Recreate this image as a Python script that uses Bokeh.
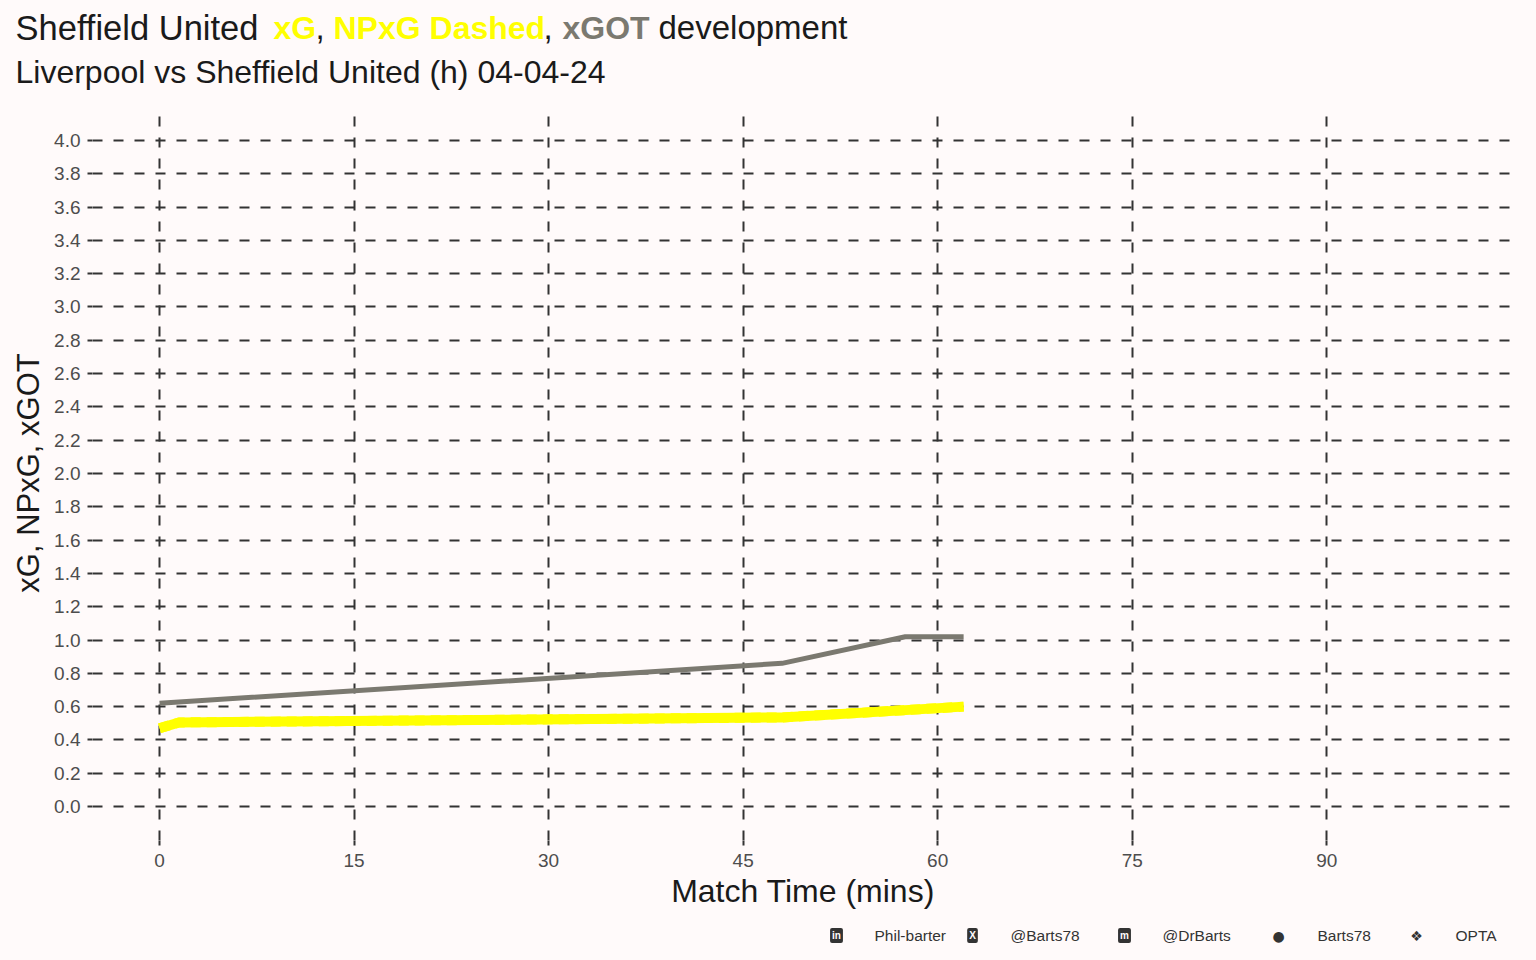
import math
from bokeh.plotting import figure
from bokeh.layouts import column, row
from bokeh.models import Label, FixedTicker, NumeralTickFormatter, Range1d
from bokeh.embed import file_html
from bokeh.resources import INLINE

# ---------------- data ----------------
xgot_minutes = [0, 48, 57.5, 62]
xgot_values = [0.62, 0.86, 1.02, 1.02]

xg_minutes = [0, 1.5, 48, 62]
xg_values = [0.47, 0.505, 0.535, 0.60]

npxg_minutes = [0, 1.5, 48, 62]
npxg_values = [0.47, 0.505, 0.535, 0.60]

x_ticks = [0, 15, 30, 45, 60, 75, 90]
y_ticks = [round(i * 0.2, 1) for i in range(21)]

title_parts = [
    ("Sheffield United", "normal", "#1a1a1a"),
    ("xG", "bold", "#ffff00"),
    (",", "normal", "#1a1a1a"),
    ("NPxG Dashed", "bold", "#ffff00"),
    (",", "normal", "#1a1a1a"),
    ("xGOT", "bold", "#7b7970"),
    ("development", "normal", "#1a1a1a"),
]
subtitle = "Liverpool vs Sheffield United (h) 04-04-24"
x_label = "Match Time (mins)"
y_label = "xG, NPxG, xGOT"
footer_items = [
    ("in", "Phil-barter"),
    ("X", "@Barts78"),
    ("m", "@DrBarts"),
    ("●", "Barts78"),
    ("❖", "OPTA"),
]

# ---------------- layout ----------------
W = 1536
TOP_H, MAIN_H, FOOT_H = 100, 815, 45
BG = "#fffafa"
FONT = "Liberation Sans"
TXT = "#1a1a1a"


def canvas_fig(height, y0):
    f = figure(width=W, height=height, output_backend="svg", toolbar_location=None,
               x_range=Range1d(0, W), y_range=Range1d(y0 + height, y0),
               x_axis_location=None, y_axis_location=None,
               min_border=0, min_border_left=0, min_border_right=0,
               min_border_top=0, min_border_bottom=0)
    f.background_fill_color = BG
    f.border_fill_color = BG
    f.outline_line_color = None
    f.grid.visible = False
    return f


# ---- title panel (data units = page pixels) ----
top = canvas_fig(TOP_H, 0)
title_x = [15, 273, 315, 333, 543, 562, 658]
title_sizes = ["34.5px", "32px", "33px", "32px", "33px", "32px", "33px"]
for (txt, style, col), px, fs in zip(title_parts, title_x, title_sizes):
    top.add_layout(Label(x=px, y=27, text=txt, text_font=FONT, text_font_size=fs,
                         text_font_style=style, text_color=col,
                         text_baseline="middle", text_align="left"))
top.add_layout(Label(x=15, y=71.5, text=subtitle, text_font=FONT, text_font_size="32px",
                     text_color=TXT, text_baseline="middle"))

# ---- main chart ----
p = figure(width=W, height=MAIN_H, output_backend="svg", toolbar_location=None,
           x_range=Range1d(-5.17, 104.4), y_range=Range1d(-0.204, 4.21),
           min_border_left=92, min_border_right=23, min_border_top=5,
           min_border_bottom=75)
p.background_fill_color = BG
p.border_fill_color = BG
p.outline_line_color = None

for ax in (p.xaxis[0], p.yaxis[0]):
    ax.axis_line_color = None
    ax.major_tick_in = 0
    ax.major_tick_out = 5
    ax.major_tick_line_color = "#333333"
    ax.major_tick_line_width = 2
    ax.minor_tick_line_color = None
    ax.major_label_text_font = FONT
    ax.major_label_text_font_size = "19px"
    ax.major_label_text_color = "#4d4d4d"
    ax.axis_label_text_font = FONT
    ax.axis_label_text_font_style = "normal"
    ax.axis_label_text_color = TXT

p.xaxis.ticker = FixedTicker(ticks=x_ticks)
p.yaxis.ticker = FixedTicker(ticks=y_ticks)
p.yaxis.formatter = NumeralTickFormatter(format="0.0")
p.xaxis.major_label_standoff = 8
p.yaxis.major_label_standoff = 7

p.yaxis.axis_label = y_label
p.yaxis.axis_label_text_font_size = "31px"
p.yaxis.axis_label_standoff = 5

p.xaxis.axis_label = x_label
p.xaxis.axis_label_text_font_size = "32px"
p.xaxis.axis_label_standoff = 3

for g in (p.xgrid[0], p.ygrid[0]):
    g.grid_line_color = "#333333"
    g.grid_line_width = 2
    g.grid_line_dash = "10 11"

p.xgrid.ticker = FixedTicker(ticks=x_ticks)
p.ygrid.ticker = FixedTicker(ticks=y_ticks)

p.line(xgot_minutes, xgot_values, line_color="#7b7970", line_width=5, line_cap="butt")
p.line(xg_minutes, xg_values, line_color="#ffff00", line_width=10, line_cap="butt")
p.line(npxg_minutes, npxg_values, line_color="#ffff00", line_width=10,
       line_dash="10 6", line_cap="butt")

# ---- footer panel: credits ----
foot = canvas_fig(FOOT_H, TOP_H + MAIN_H)
icon_x = [836, 972, 1124, 1278, 1416]
text_x = [874, 1010, 1162, 1317, 1455]
for (icon, txt), ix, tx in zip(footer_items, icon_x, text_x):
    if icon in ("in", "X", "m"):
        foot.add_layout(Label(x=ix, y=935, text=icon, text_font=FONT, text_font_size="10px",
                              text_font_style="bold", text_color=BG,
                              text_align="center", text_baseline="middle",
                              background_fill_color="#333333", padding=2,
                              border_radius=2))
    else:
        foot.add_layout(Label(x=ix, y=935, text=icon, text_font="DejaVu Sans",
                              text_font_size="14px", text_color="#333333",
                              text_align="center", text_baseline="middle"))
    foot.add_layout(Label(x=tx, y=934.5, text=txt, text_font=FONT, text_font_size="15.5px",
                          text_color="#333333", text_baseline="middle"))

layout = column(top, row(p), foot, spacing=0)
layout.styles = {"background-color": BG}
open("out.html", "w").write(file_html(layout, INLINE))
